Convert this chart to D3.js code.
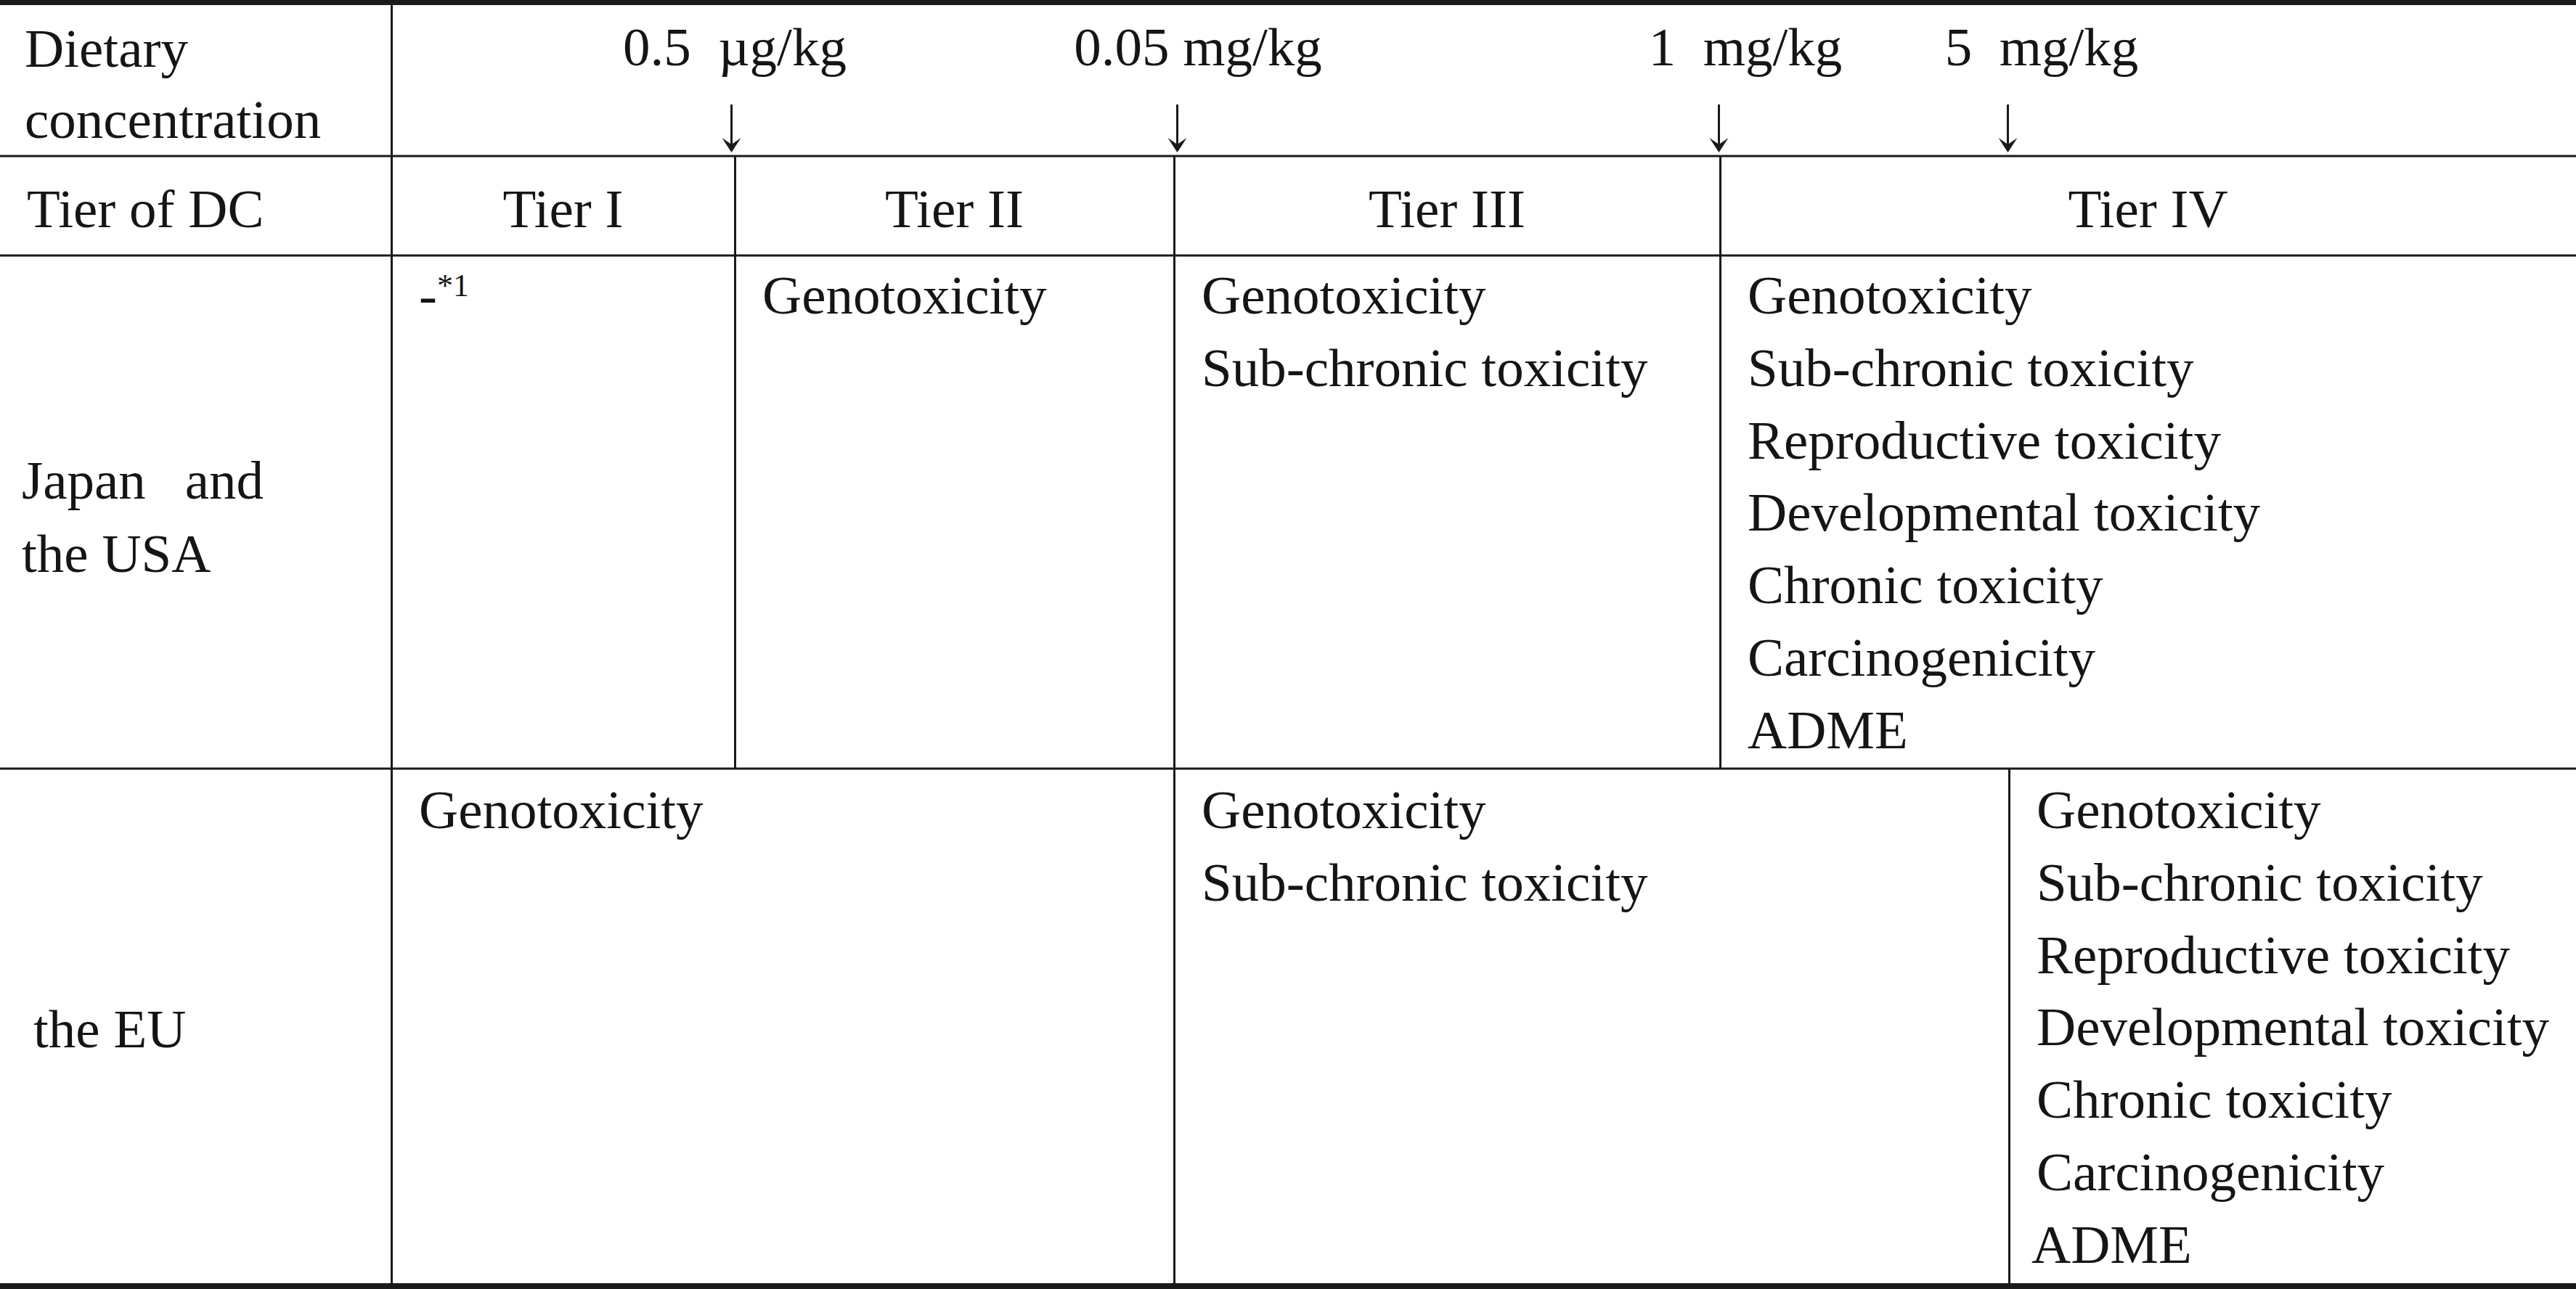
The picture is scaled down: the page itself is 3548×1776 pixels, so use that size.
<!DOCTYPE html>
<html>
<head>
<meta charset="utf-8">
<script src="https://cdn.jsdelivr.net/npm/d3@7"></script>
<style>
  body { margin: 0; background: #fff; }
  text { font-family: "Liberation Serif", "Times New Roman", serif; fill: #151515; white-space: pre; }
</style>
</head>
<body>
<div id="chart"></div>
<script>
// table content
var doseLabels = ["0.5  \u00b5g/kg", "0.05 mg/kg", "1  mg/kg", "5  mg/kg"];
var tiers = ["Tier I", "Tier II", "Tier III", "Tier IV"];
var headerLabels = ["Dietary", "concentration"];
var tierHeader = "Tier of DC";
var regionJapan = ["Japan", "and", "the USA"];
var regionEU = "the EU";

// tests required per tier, Japan and the USA (tier I has none: "-*1")
var japanTests = [
  [],
  ["Genotoxicity"],
  ["Genotoxicity", "Sub-chronic toxicity"],
  ["Genotoxicity", "Sub-chronic toxicity", "Reproductive toxicity", "Developmental toxicity",
   "Chronic toxicity", "Carcinogenicity", "ADME"]
];
// the EU groups: below 0.05 mg/kg, 0.05 to 5 mg/kg, above 5 mg/kg
var euTests = [
  ["Genotoxicity"],
  ["Genotoxicity", "Sub-chronic toxicity"],
  ["Genotoxicity", "Sub-chronic toxicity", "Reproductive toxicity", "Developmental toxicity",
   "Chronic toxicity", "Carcinogenicity", "ADME"]
];

var width = 3548, height = 1776;
var fontSize = 75, lineStep = 99.8, pad = 38;
var ink = "#1a1a1a";

// column edges: label column, then the four dose boundaries
var x = d3.scaleOrdinal()
  .domain(["left", "label", "b0", "b1", "b2", "b3", "right"])
  .range([0, 539, 1012, 1617, 2369, 2767, width]);
// row edges
var y = d3.scaleOrdinal()
  .domain(["top", "dose", "tier", "japan", "eu"])
  .range([3.5, 215, 352, 1059, 1772]);

var bounds = ["b0", "b1", "b2", "b3"];
var labelShift = [0, 33, 35, 45];
var arrowShift = [-5, 4, -2, -2];

var svg = d3.select("#chart")
  .append("svg")
  .attr("width", width)
  .attr("height", height)
  .style("display", "block");

svg.append("rect").attr("width", width).attr("height", height).attr("fill", "#fff");

var lines = svg.append("g").attr("stroke", ink);

// horizontal rules
lines.append("line").attr("x1", 0).attr("x2", width).attr("y1", y("top")).attr("y2", y("top")).attr("stroke-width", 7);
lines.append("line").attr("x1", 0).attr("x2", width).attr("y1", y("eu")).attr("y2", y("eu")).attr("stroke-width", 8);
["dose", "tier", "japan"].forEach(function(k) {
  lines.append("line").attr("x1", 0).attr("x2", width).attr("y1", y(k)).attr("y2", y(k)).attr("stroke-width", 3);
});

// vertical rules
var vrules = [
  { k: "label", y1: "top", y2: "eu" },
  { k: "b0", y1: "dose", y2: "japan" },
  { k: "b1", y1: "dose", y2: "eu" },
  { k: "b2", y1: "dose", y2: "japan" },
  { k: "b3", y1: "japan", y2: "eu" }
];
lines.selectAll("line.v")
  .data(vrules)
  .enter()
  .append("line")
  .attr("class", "v")
  .attr("x1", function(d) { return x(d.k) + 0.5; })
  .attr("x2", function(d) { return x(d.k) + 0.5; })
  .attr("y1", function(d) { return y(d.y1); })
  .attr("y2", function(d) { return y(d.y2); })
  .attr("stroke-width", 3);

// dose arrows
var arrows = svg.append("g");
arrows.selectAll("line")
  .data(bounds)
  .enter()
  .append("line")
  .attr("x1", function(d, i) { return x(d) + arrowShift[i] + 0.5; })
  .attr("x2", function(d, i) { return x(d) + arrowShift[i] + 0.5; })
  .attr("y1", 144)
  .attr("y2", 200)
  .attr("stroke", ink)
  .attr("stroke-width", 3);
arrows.selectAll("path")
  .data(bounds)
  .enter()
  .append("path")
  .attr("d", function(d, i) {
    var cx = x(d) + arrowShift[i] + 0.5, tip = 210;
    return "M" + cx + "," + tip + " L" + (cx - 13) + "," + (tip - 20) +
      " L" + cx + "," + (tip - 11) + " L" + (cx + 13) + "," + (tip - 20) + " Z";
  })
  .attr("fill", ink);

var txt = svg.append("g").style("font-size", fontSize + "px");

// dose labels
txt.selectAll("text.dose")
  .data(doseLabels)
  .enter()
  .append("text")
  .attr("class", "dose")
  .attr("x", function(d, i) { return x(bounds[i]) + labelShift[i]; })
  .attr("y", 90)
  .attr("text-anchor", "middle")
  .text(function(d) { return d; });

// left column
txt.selectAll("text.head")
  .data(headerLabels)
  .enter()
  .append("text")
  .attr("x", 34)
  .attr("y", function(d, i) { return 92 + i * 98; })
  .text(function(d) { return d; });
txt.append("text").attr("x", 37).attr("y", 313).text(tierHeader);
txt.append("text").attr("x", 30).attr("y", 687).text(regionJapan[0]);
txt.append("text").attr("x", 363).attr("y", 687).attr("text-anchor", "end").text(regionJapan[1]);
txt.append("text").attr("x", 30).attr("y", 788).text(regionJapan[2]);
txt.append("text").attr("x", 46).attr("y", 1443).text(regionEU);

// tier headers
var tierEdges = [["label", "b0"], ["b0", "b1"], ["b1", "b2"], ["b2", "right"]];
txt.selectAll("text.tier")
  .data(tiers)
  .enter()
  .append("text")
  .attr("class", "tier")
  .attr("x", function(d, i) { return (x(tierEdges[i][0]) + x(tierEdges[i][1])) / 2; })
  .attr("y", 313)
  .attr("text-anchor", "middle")
  .text(function(d) { return d; });

// Japan and the USA cells
var japanStart = ["label", "b0", "b1", "b2"];
japanTests.forEach(function(list, i) {
  txt.selectAll(null)
    .data(list)
    .enter()
    .append("text")
    .attr("x", x(japanStart[i]) + pad)
    .attr("y", function(d, j) { return 432 + j * lineStep; })
    .text(function(d) { return d; });
});
// tier I: dash with footnote mark
var dash = txt.append("text").attr("x", x("label") + pad).attr("y", 432);
dash.append("tspan").text("-");
dash.append("tspan").attr("dy", -24).style("font-size", "44px").text("*1");

// EU cells
var euStart = ["label", "b1", "b3"];
euTests.forEach(function(list, i) {
  txt.selectAll(null)
    .data(list)
    .enter()
    .append("text")
    .attr("x", function(d) { return x(euStart[i]) + pad + (d === "ADME" && i === 2 ? -7 : 0); })
    .attr("y", function(d, j) { return 1141 + j * lineStep; })
    .text(function(d) { return d; });
});
</script>
</body>
</html>
